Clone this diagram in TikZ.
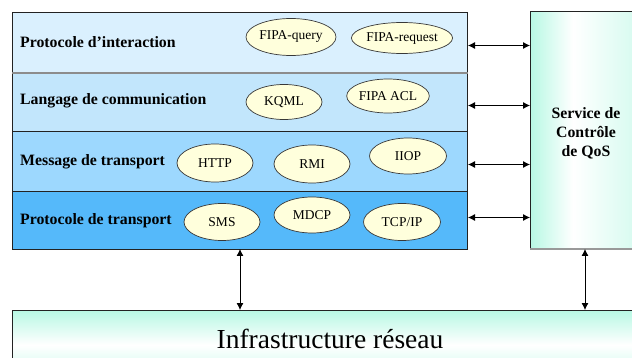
\documentclass[tikz,border=0pt]{standalone}
\usepackage{fontspec}
\setmainfont{Liberation Serif}
\usetikzlibrary{shapes.geometric,arrows.meta}
\definecolor{rowA}{HTML}{DAF0FE}
\definecolor{rowB}{HTML}{C2E6FC}
\definecolor{rowC}{HTML}{9DD8FE}
\definecolor{rowD}{HTML}{55B9FA}
\definecolor{ell}{HTML}{FFFFDC}
\definecolor{aqua}{HTML}{B8F8E4}
\definecolor{edge}{HTML}{222222}
\tikzset{
  layer/.style={draw=edge, line width=1pt, anchor=north west, minimum width=455pt, inner sep=0pt},
  lbl/.style={anchor=west, font=\fontsize{15.8}{18}\selectfont\bfseries, inner sep=0pt},
  proto/.style={ellipse, draw=edge!90, line width=0.7pt, fill=ell, inner sep=0pt, font=\fontsize{13.5}{16}\selectfont},
  arr/.style={{Latex[length=7pt,width=7pt]}-{Latex[length=7pt,width=7pt]}, line width=0.8pt, black}
}
\begin{document}
\begin{tikzpicture}[x=1pt,y=-1pt]
\clip (0,0) rectangle (632,358);
\fill[white] (0,0) rectangle (632,358);
% layers
\node[layer, fill=rowA, minimum height=60pt] (r1) at (12,12) {};
\node[layer, fill=rowB, minimum height=59pt] (r2) at (12,72) {};
\node[layer, fill=rowC, minimum height=60pt] (r3) at (12,131) {};
\node[layer, fill=rowD, minimum height=58pt] (r4) at (12,191) {};
\draw[line width=1.2pt, draw=gray!90] (r1.south west) -- (r1.south east);
% labels
\node[lbl] (l1) at (20,42) {Protocole d’interaction};
\node[lbl] (l2) at (20,101) {Langage de communication};
\node[lbl] (l3) at (20,162) {Message de transport};
\node[lbl] (l4) at (20,221) {Protocole de transport};
% protocols
\node[proto, minimum width=90pt, minimum height=37pt] (fq) at (291,37) {FIPA-query};
\node[proto, minimum width=93pt, minimum height=31pt] (fr) at (402,38) {FIPA-request};
\node[proto, minimum width=76pt, minimum height=35pt] (kq) at (284,102) {KQML};
\node[proto, minimum width=79pt, minimum height=34pt] (fa) at (388,96) {FIPA ACL};
\node[proto, minimum width=76pt, minimum height=38pt] (ht) at (215,163) {HTTP};
\node[proto, minimum width=76pt, minimum height=38pt] (rm) at (312,164) {RMI};
\node[proto, minimum width=77pt, minimum height=36pt] (ii) at (408,156) {IIOP};
\node[proto, minimum width=76pt, minimum height=37pt] (sm) at (222,222) {SMS};
\node[proto, minimum width=76pt, minimum height=36pt] (md) at (312,215) {MDCP};
\node[proto, minimum width=77pt, minimum height=37pt] (tc) at (402,222) {TCP/IP};
% QoS box
\node[draw=edge, line width=1pt, anchor=north west, minimum width=120pt, minimum height=237pt, inner sep=0pt] (qos) at (530,12) {};
\shade[left color=aqua, right color=white] (530.5,12.5) rectangle (573,248.5);
\shade[left color=white, right color=aqua!60] (573,12.5) rectangle (640,248.5);
\draw[line width=1pt, draw=edge] (640,12) -- (530,12) -- (530,249);
\draw[line width=1.2pt, draw=gray!80] (530,249) -- (640,249);
\node[font=\fontsize{15.8}{19}\selectfont\bfseries, align=center] (qt) at (586,133) {Service de\\Contrôle\\de QoS};
% infrastructure
\node[draw=edge, line width=1pt, anchor=north west, minimum width=640pt, minimum height=70pt, inner sep=0pt] (inf) at (12,310) {};
\shade[top color=aqua, bottom color=white] (12.5,310.5) rectangle (660,345);
\shade[top color=white, bottom color=aqua!80] (12.5,345) rectangle (660,380);
\draw[line width=1pt, draw=edge] (12,380) -- (12,310) -- (660,310);
\node[font=\fontsize{27.5}{30}\selectfont, anchor=base] (it) at (330,348) {Infrastructure réseau};
% arrows
\draw[arr] ([yshift=-3pt]r1.east) -- ([yshift=-3pt]r1.east -| qos.west);
\draw[arr] ([yshift=-3.5pt]r2.east) -- ([yshift=-3.5pt]r2.east -| qos.west);
\draw[arr] ([yshift=-3pt]r3.east) -- ([yshift=-3pt]r3.east -| qos.west);
\draw[arr] ([yshift=3pt]r4.east) -- ([yshift=3pt]r4.east -| qos.west);
\coordinate (va) at (240,249);
\draw[arr] (va) -- (va |- inf.north);
\coordinate (vb) at (585,249);
\draw[arr] (vb) -- (vb |- inf.north);
\end{tikzpicture}
\end{document}
